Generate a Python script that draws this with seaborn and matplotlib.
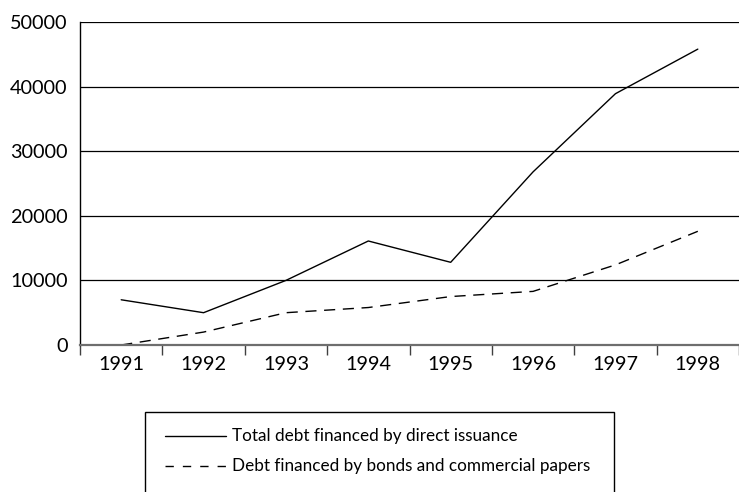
import matplotlib
matplotlib.use("Agg")
import matplotlib.pyplot as plt
from matplotlib.lines import Line2D
from matplotlib.patches import Rectangle
import numpy as np
import pandas as pd
import seaborn as sns

years = ["1991", "1992", "1993", "1994", "1995", "1996", "1997", "1998"]
total_direct = [7000, 5000, 10000, 16100, 12800, 26800, 38900, 45800]
bonds_cp = [0, 2000, 5000, 5800, 7500, 8300, 12400, 17600]
series_names = ["Total debt financed by direct issuance",
                "Debt financed by bonds and commercial papers"]
y_ticks = [0, 10000, 20000, 30000, 40000, 50000]

sns.set_theme(style="white")
plt.rcParams["font.family"] = ["Lato", "DejaVu Sans"]

df = pd.DataFrame({
    "pos": list(range(len(years))) * 2,
    "value": total_direct + bonds_cp,
    "series": [series_names[0]] * len(years) + [series_names[1]] * len(years),
})

DASH = (8, 5.5)
TICK_FS = 14.3
LEG_FS = 12.3

fig = plt.figure(figsize=(7.39, 4.92), dpi=100)
ax = fig.add_axes([80 / 739, 1 - 345 / 492, 1 - 80 / 739, (345 - 22) / 492])

ax.set_ylim(0, 50000)
ax.set_xlim(-0.5, len(years) - 0.5)
for v in y_ticks[1:]:
    ax.axhline(v, color="black", lw=0.9, zorder=1)

sns.lineplot(data=df, x="pos", y="value", style="series",
             dashes={series_names[0]: "", series_names[1]: DASH},
             color="black", lw=1.0, legend=False, ax=ax, zorder=3)

ax.set_xlabel("")
ax.set_ylabel("")
ax.set_yticks(y_ticks)
ax.set_yticklabels([str(v) for v in y_ticks])
ax.set_xticks(range(len(years)))
ax.set_xticklabels(years)
ax.set_xticks(np.arange(-0.5, len(years) + 0.5, 1), minor=True)
ax.tick_params(axis="x", which="major", length=0, pad=8, labelsize=TICK_FS, colors="black")
ax.tick_params(axis="x", which="minor", length=7, width=1, color="#404040", direction="out")
ax.tick_params(axis="y", which="major", length=5, width=1, color="black", direction="out",
               pad=4, labelsize=TICK_FS, labelcolor="black")
ax.tick_params(axis="x", bottom=True, which="both")

for s in ["top", "right"]:
    ax.spines[s].set_visible(False)
ax.spines["left"].set_color("black")
ax.spines["left"].set_linewidth(1.0)
ax.spines["bottom"].set_color("#6e6e6e")
ax.spines["bottom"].set_linewidth(1.6)
ax.spines["bottom"].set_zorder(4)

# legend box, open at the bottom edge of the figure
W, H = 739, 492
box = Rectangle((145 / W, -0.05), (614 - 145) / W, (H - 412) / H + 0.05,
                transform=fig.transFigure, fill=False, edgecolor="black", lw=1.0)
fig.patches.append(box)
for i, (name, dash) in enumerate(zip(series_names, [None, (6, 6.5)])):
    yy = 1 - (436 + 30 * i) / H
    ln = Line2D([165 / W, 226 / W], [yy, yy], transform=fig.transFigure,
                color="black", lw=1.0)
    if dash:
        ln.set_dashes(dash)
    fig.lines.append(ln)
    fig.text(232 / W, yy, name, va="center", ha="left", fontsize=LEG_FS, color="black")

fig.savefig("out.png", dpi=100)
